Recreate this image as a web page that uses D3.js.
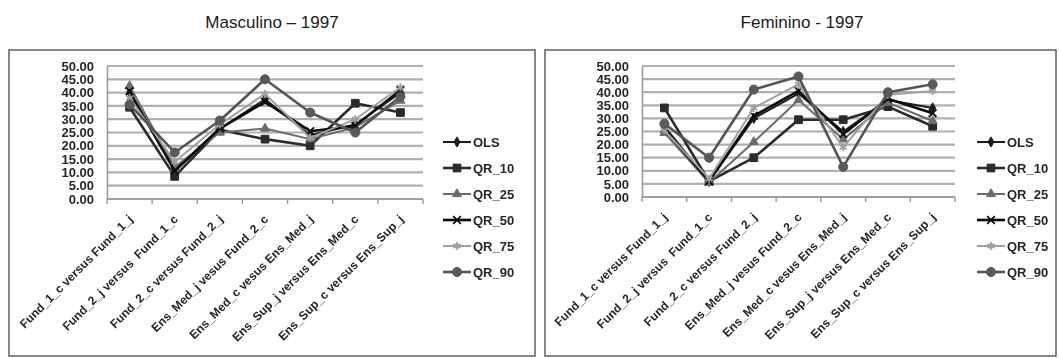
<!DOCTYPE html>
<html>
<head>
<meta charset="utf-8">
<script src="https://cdn.jsdelivr.net/npm/d3@7/dist/d3.min.js"></script>
<style>
  html, body { margin: 0; padding: 0; background: #fff; }
  svg { display: block; }
</style>
</head>
<body>
<svg id="chart" width="1059" height="358"></svg>
<script>
// Categories (education transitions) shared by both panels
const categories = [
  "Fund_1_c versus Fund_1_j",
  "Fund_2_j versus  Fund_1_c",
  "Fund_2_c versus Fund_2_j",
  "Ens_Med_j vesus Fund_2_c",
  "Ens_Med_c vesus Ens_Med_j",
  "Ens_Sup_j versus Ens_Med_c",
  "Ens_Sup_c versus Ens_Sup_j"
];
const seriesNames = ["OLS", "QR_10", "QR_25", "QR_50", "QR_75", "QR_90"];
const yTickValues = [0, 5, 10, 15, 20, 25, 30, 35, 40, 45, 50];

// Masculino – 1997
const mascOLS  = [40.0, 11.0, 26.5, 37.5, 24.0, 28.0, 40.0];
const mascQR10 = [34.5,  8.5, 26.0, 22.5, 20.0, 36.0, 32.5];
const mascQR25 = [42.5, 12.0, 25.0, 26.5, 22.5, 27.0, 37.0];
const mascQR50 = [40.5, 10.5, 26.5, 36.5, 25.5, 27.5, 41.0];
const mascQR75 = [38.0, 14.0, 28.0, 39.5, 23.0, 30.0, 42.0];
const mascQR90 = [35.5, 17.5, 29.5, 45.0, 32.5, 25.0, 38.5];

// Feminino - 1997
const femOLS  = [27.0,  6.0, 30.0, 39.5, 25.0, 37.0, 34.0];
const femQR10 = [34.0,  6.0, 15.0, 29.5, 29.5, 34.5, 27.0];
const femQR25 = [24.5,  5.5, 21.0, 37.0, 22.0, 36.0, 29.0];
const femQR50 = [26.0,  6.0, 31.0, 40.5, 24.0, 37.5, 32.0];
const femQR75 = [25.5,  7.0, 34.0, 43.0, 19.0, 39.0, 40.5];
const femQR90 = [28.0, 15.0, 41.0, 46.0, 11.5, 40.0, 43.0];

const panels = [
  { title: "Masculino – 1997", titleX: 272,
    frame: [9, 50, 526, 306], plot: [107, 66, 423, 199], legendX: 443,
    series: [mascOLS, mascQR10, mascQR25, mascQR50, mascQR75, mascQR90] },
  { title: "Feminino - 1997", titleX: 802,
    frame: [545, 50, 511, 306], plot: [642, 66, 955, 197], legendX: 977,
    series: [femOLS, femQR10, femQR25, femQR50, femQR75, femQR90] }
];

// Line and marker style for each series (grayscale office-chart look)
const styles = [
  { stroke: "#1c1c1c", width: 2.0, symbol: d3.symbolDiamond, size: 30, fill: "#1c1c1c", hollow: false },
  { stroke: "#2c2c2c", width: 2.6, symbol: d3.symbolSquare,  size: 60, fill: "#2c2c2c", hollow: false },
  { stroke: "#6c6c6c", width: 2.0, symbol: d3.symbolTriangle, size: 36, fill: "#6c6c6c", hollow: false },
  { stroke: "#111111", width: 2.6, symbol: d3.symbolTimes || d3.symbolCross, size: 40, fill: "none", hollow: true },
  { stroke: "#a0a0a0", width: 2.0, symbol: d3.symbolAsterisk || d3.symbolCross, size: 45, fill: "none", hollow: true },
  { stroke: "#555555", width: 2.6, symbol: d3.symbolCircle,  size: 64, fill: "#5a5a5a", hollow: false }
];

const svg = d3.select("#chart");
const labelFont = "'Liberation Sans', Arial, sans-serif";

const defs = svg.append("defs");
defs.append("filter").attr("id", "soft")
  .attr("x", "-5%").attr("y", "-5%").attr("width", "110%").attr("height", "110%")
  .append("feGaussianBlur").attr("stdDeviation", 0.75);

panels.forEach(p => {
  // Title above the frame
  svg.append("text")
    .attr("x", p.titleX).attr("y", 28)
    .attr("text-anchor", "middle")
    .attr("font-family", "'Liberation Sans', Arial, sans-serif")
    .attr("font-size", 17)
    .attr("fill", "#1a1a1a")
    .text(p.title);

  // Frame around the chart area
  svg.append("rect")
    .attr("x", p.frame[0]).attr("y", p.frame[1])
    .attr("width", p.frame[2]).attr("height", p.frame[3])
    .attr("fill", "#fff").attr("stroke", "#6a6a6a").attr("stroke-width", 1.6);

  const g = svg.append("g").attr("filter", "url(#soft)");

  const [x0, y0, x1, y1] = p.plot;
  const x = d3.scaleBand().domain(categories).range([x0, x1]);
  const y = d3.scaleLinear().domain([0, 50]).range([y1, y0]);

  // Horizontal gridlines
  g.append("g").selectAll("line").data(yTickValues).join("line")
    .attr("x1", x0).attr("x2", x1)
    .attr("y1", d => y(d)).attr("y2", d => y(d))
    .attr("stroke", "#b0b0b0").attr("stroke-width", 2.2);

  // Y axis with value labels
  const yAxis = g.append("g")
    .attr("transform", `translate(${x0},0)`)
    .call(d3.axisLeft(y).tickValues(yTickValues).tickFormat(d3.format(".2f")).tickSize(0).tickPadding(13));
  yAxis.select(".domain").attr("stroke", "#9a9a9a").attr("stroke-width", 1.6);
  yAxis.selectAll("text")
    .attr("font-family", labelFont).attr("font-size", 13).attr("font-weight", "bold")
    .attr("fill", "#262626");

  // X axis: tick marks on band boundaries, rotated category labels
  const xAxis = g.append("g").attr("transform", `translate(0,${y1})`);
  xAxis.append("line").attr("x1", x0).attr("x2", x1)
    .attr("stroke", "#9a9a9a").attr("stroke-width", 1.6);
  const bounds = categories.map(c => x(c)).concat([x1]);
  xAxis.selectAll("line.tick").data(bounds).join("line").attr("class", "tick")
    .attr("x1", d => d).attr("x2", d => d).attr("y1", 0).attr("y2", 5)
    .attr("stroke", "#9a9a9a").attr("stroke-width", 1.4);
  xAxis.selectAll("text").data(categories).join("text")
    .attr("transform", d => `translate(${x(d) + x.bandwidth() / 2 + 4},${21}) rotate(-45)`)
    .attr("text-anchor", "end")
    .attr("font-family", labelFont).attr("font-size", 12).attr("font-weight", "bold")
    .attr("fill", "#262626")
    .style("white-space", "pre")
    .text(d => d);

  // Series lines and markers
  const line = d3.line()
    .x((d, i) => x(categories[i]) + x.bandwidth() / 2)
    .y(d => y(d));

  p.series.forEach((vals, si) => {
    const st = styles[si];
    const sg = g.append("g");
    sg.append("path").datum(vals)
      .attr("d", line)
      .attr("fill", "none")
      .attr("stroke", st.stroke).attr("stroke-width", st.width)
      .attr("stroke-linejoin", "round");
    sg.selectAll("path.mk").data(vals).join("path").attr("class", "mk")
      .attr("transform", (d, i) => `translate(${x(categories[i]) + x.bandwidth() / 2},${y(d)})`)
      .attr("d", d3.symbol(st.symbol, st.size))
      .attr("fill", st.fill)
      .attr("stroke", st.stroke)
      .attr("stroke-width", st.hollow ? 1.8 : 1);
  });

  // Legend
  const lg = g.append("g");
  seriesNames.forEach((name, si) => {
    const st = styles[si];
    const ly = 142 + si * 26;
    lg.append("line")
      .attr("x1", p.legendX).attr("x2", p.legendX + 28)
      .attr("y1", ly).attr("y2", ly)
      .attr("stroke", st.stroke).attr("stroke-width", st.width);
    lg.append("path")
      .attr("transform", `translate(${p.legendX + 14},${ly})`)
      .attr("d", d3.symbol(st.symbol, st.size))
      .attr("fill", st.fill).attr("stroke", st.stroke)
      .attr("stroke-width", st.hollow ? 1.8 : 1);
    lg.append("text")
      .attr("x", p.legendX + 30).attr("y", ly)
      .attr("dy", "0.35em")
      .attr("font-family", labelFont).attr("font-size", 13).attr("font-weight", "bold")
      .attr("fill", "#262626")
      .text(name);
  });
});
</script>
</body>
</html>
